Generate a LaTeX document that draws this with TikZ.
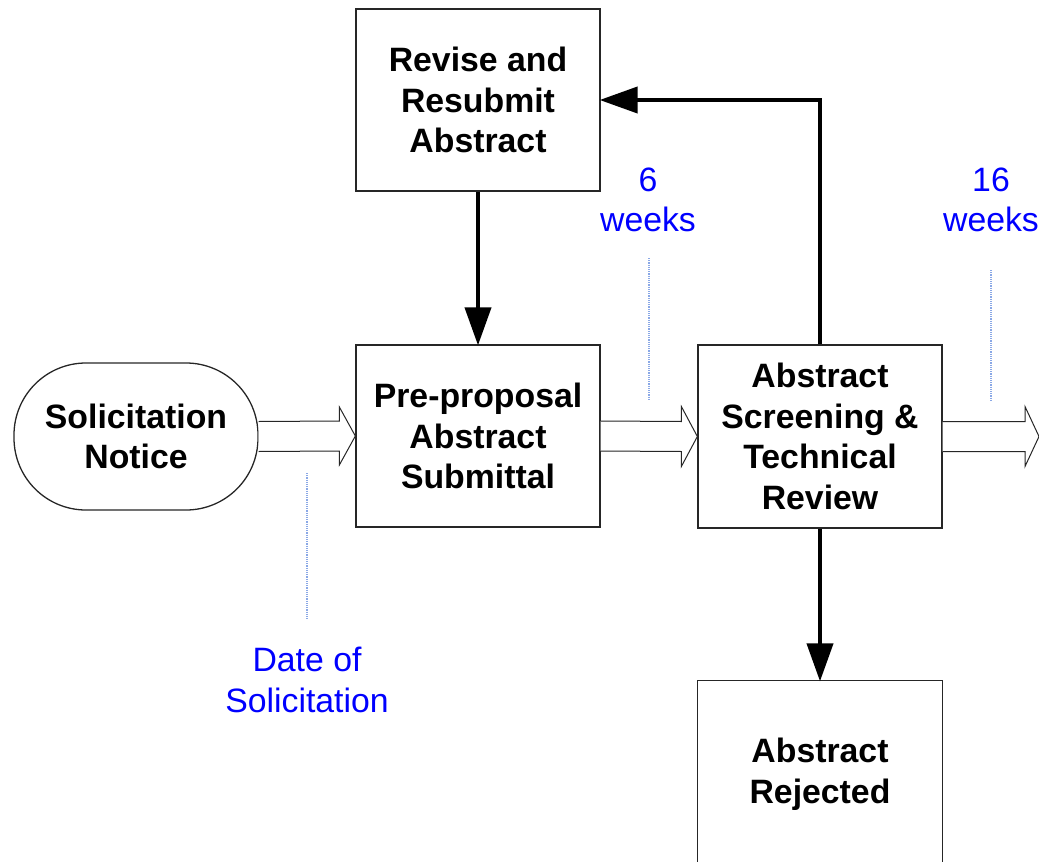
\documentclass[tikz,border=0pt]{standalone}
\usepackage{fontspec}
\setmainfont{Liberation Sans}
\usetikzlibrary{arrows.meta,calc}
\definecolor{lblue}{HTML}{8AA8E6}
\tikzset{
  box/.style={draw=black!85, line width=1.3pt, minimum width=244pt, align=center,
    font=\fontsize{33.8}{40.5}\selectfont\bfseries, inner sep=0pt},
  lbl/.style={align=center, text=blue, font=\fontsize{33.8}{40.5}\selectfont, inner sep=0pt},
  blk/.style={line width=4pt, -{Triangle[length=38pt,width=26pt]}, shorten >=-1pt},
  hollow/.style={draw=black!85, line width=1pt, fill=white, line join=miter},
  guide/.style={draw=lblue, line width=1.2pt, densely dotted},
}
\begin{document}
\begin{tikzpicture}[x=1pt,y=-1pt]
\useasboundingbox (0,0) rectangle (1039,862);
% nodes
\node[box, minimum height=147pt, rounded corners=72pt] (sol) at (136,436.5) {Solicitation\\Notice};
\node[box, minimum height=182pt] (pre) at (478,436) {Pre-proposal\\Abstract\\Submittal};
\node[box, minimum height=182pt] (rev) at (478,100) {Revise and\\Resubmit\\Abstract};
\node[box, minimum height=183pt] (scr) at (820,436.5) {Abstract\\Screening \&\\Technical\\Review};
\node[box, draw=none, minimum height=181pt] (rej) at (820,771.5) {};
\node[box, draw=none] (rejt) at (820,774.5) {Abstract\\Rejected};
\draw[draw=black!85, line width=1.3pt] (rej.south west) |- (rej.north east) -- (rej.south east);
% labels
\node[lbl] (lsol) at (307,680) {Date of\\Solicitation};
\node[lbl] (l6) at (648,200) {6\\weeks};
\node[lbl] (l16) at (991,200) {16\\weeks};
\coordinate (g1a) at (307,473); \coordinate (g1b) at (307,620);
\coordinate (g2a) at (649,258); \coordinate (g2b) at (649,400);
\coordinate (g3a) at (991,270); \coordinate (g3b) at (991,400);
\draw[guide] (g1a) -- (g1b);
\draw[guide] (g2a) -- (g2b);
\draw[guide] (g3a) -- (g3b);
% hollow arrows
\coordinate (endr) at (1039,436.5);
\draw[hollow] ($(sol.east)+(0,-15)$) -- ($(pre.west)+(-16,-15)$) -- ($(pre.west)+(-16,-29)$) -- (pre.west)
  -- ($(pre.west)+(-16,29)$) -- ($(pre.west)+(-16,15)$) -- ($(sol.east)+(0,15)$);
\draw[hollow] ($(pre.east)+(0,-15)$) -- ($(scr.west)+(-16,-15)$) -- ($(scr.west)+(-16,-30)$) -- (scr.west)
  -- ($(scr.west)+(-16,30)$) -- ($(scr.west)+(-16,15)$) -- ($(pre.east)+(0,15)$);
\draw[hollow] ($(scr.east)+(0,-15)$) -- ($(endr)+(-14,-15)$) -- ($(endr)+(-14,-30)$) -- (endr)
  -- ($(endr)+(-14,30)$) -- ($(endr)+(-14,15)$) -- ($(scr.east)+(0,15)$);
% black arrows
\draw[blk] (rev.south) -- (pre.north);
\draw[blk] (scr.north) |- (rev.east);
\draw[blk] (scr.south) -- (rej.north);
\end{tikzpicture}
\end{document}
